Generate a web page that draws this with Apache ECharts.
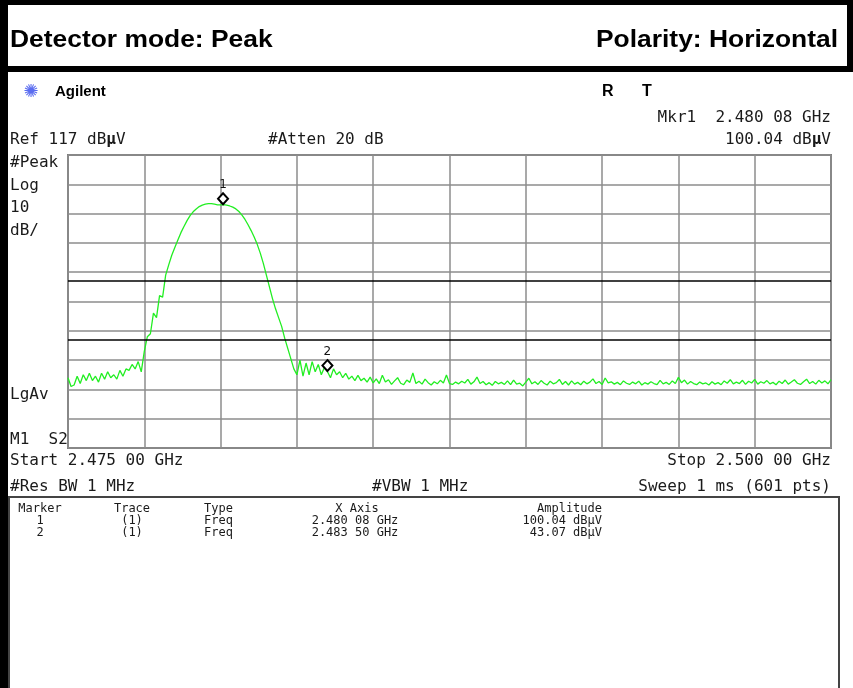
<!DOCTYPE html>
<html>
<head>
<meta charset="utf-8">
<script src="https://cdn.jsdelivr.net/npm/echarts@6/dist/echarts.min.js"></script>
<style>
html, body { margin: 0; padding: 0; background: #fff; }
#chart { width: 853px; height: 688px; }
</style>
</head>
<body>
<div id="chart"></div>
<script>
// sweep settings (GHz / dBuV)
var startFreq = 2.475;
var stopFreq = 2.500;
var refLevel = 117;
var bottomLevel = 17;
var limitLevels = [74, 54];

// trace 1, every 0.1 MHz
var levels = [
  41.0, 38.0, 38.5, 41.5, 39.0, 42.0, 40.0, 42.5, 40.0, 41.5,
  39.5, 42.5, 40.5, 43.0, 41.0, 42.0, 40.5, 43.5, 41.5, 44.0,
  43.5, 45.5, 44.0, 46.5, 43.0, 50.0, 55.0, 56.0, 63.0, 61.5,
  69.0, 68.5, 76.0, 79.5, 82.8, 85.4, 88.0, 90.5, 92.6, 94.6,
  96.3, 97.6, 98.6, 99.4, 99.9, 100.2, 100.4, 100.4, 100.2, 100.0,
  100.0, 100.05, 99.9, 99.6, 99.2, 98.6, 97.7, 96.5, 95.0, 93.2,
  91.2, 89.0, 86.5, 83.5, 80.0, 76.0, 72.0, 68.0, 64.5, 61.5,
  58.5, 54.5, 51.0, 47.5, 44.0, 42.0, 47.0, 41.5, 46.0, 42.0,
  46.5, 43.0, 45.5, 42.0, 44.5, 43.1, 41.0, 44.0, 42.0, 43.0,
  41.0, 42.5, 40.5, 41.5, 40.0, 41.8, 40.0, 40.8, 39.5, 41.2,
  39.2, 40.6, 39.0, 41.8, 39.5, 40.3, 38.7, 39.9, 41.0, 39.1,
  38.6, 40.2, 39.4, 42.6, 39.0, 39.8, 38.8, 40.5, 39.3, 38.5,
  39.6, 38.9, 40.1, 39.2, 41.9, 39.0, 38.7, 39.5, 38.9, 39.8,
  39.2, 40.4, 38.8, 39.6, 41.2, 39.0, 39.7, 38.6, 39.3, 38.4,
  39.7, 38.9, 39.4, 38.7, 39.9, 38.6, 40.2, 38.8, 39.1, 38.2,
  39.5, 40.8, 38.9, 39.6, 38.7, 40.0, 39.1, 38.5, 39.8, 38.9,
  39.3, 40.4, 38.7, 39.7, 38.5, 39.9, 38.8, 39.4, 38.6, 39.8,
  38.9, 39.5, 40.6, 39.0, 39.7, 38.7, 40.9, 39.2, 39.6, 38.8,
  39.4, 38.6, 39.9, 39.1, 38.7, 39.5, 38.9, 39.8, 38.5, 39.3,
  38.8, 39.6, 39.0, 38.6, 40.1, 38.9, 39.4, 38.7, 39.9, 39.0,
  41.1, 39.3, 40.2, 38.8, 39.7, 39.0, 38.6, 39.5, 38.9, 39.2,
  38.5, 39.6, 38.8, 39.3, 38.6, 39.9, 39.1, 40.3, 38.9, 39.5,
  39.0, 40.1, 38.7, 39.8, 39.2, 40.4, 38.8, 39.6, 39.1, 40.0,
  38.9, 39.4, 38.6, 39.8, 39.0, 40.2, 38.8, 39.5, 40.3, 39.1,
  38.7, 39.6, 40.5, 39.0, 39.7, 38.8, 40.1, 39.2, 39.9, 38.9, 40.3
];

// markers
var markerNames = ['1', '2'];
var markerFreqs = [2.48008, 2.48350];
var markerAmps = [100.04, 43.07];
var markerFreqText = ['2.480 08 GHz', '2.483 50 GHz'];
var markerAmpText = ['100.04 dB\u00b5V', '43.07 dB\u00b5V'];

var step = (stopFreq - startFreq) / (levels.length - 1);
var traceData = levels.map(function (v, i) {
    return [startFreq + i * step, v];
});

var mono = '"DejaVu Sans Mono", "Liberation Mono", monospace';
var ink = '#1a1a1a';

function label(x, y, text, size, align, extra) {
    var el = {
        type: 'text', x: x, y: y, silent: true,
        style: {
            text: text, fill: ink, align: align || 'left', verticalAlign: 'middle',
            font: (size || 16) + 'px ' + mono,
            rich: {b: {fontWeight: 'bold', fontSize: size || 16, fontFamily: mono, fill: ink}}
        }
    };
    if (extra) Object.assign(el, extra);
    return el;
}

var graphics = [
    // frame
    {type: 'rect', shape: {x: 0, y: 0, width: 8, height: 688}, style: {fill: '#000'}},
    {type: 'rect', shape: {x: 0, y: 0, width: 853, height: 5}, style: {fill: '#000'}},
    {type: 'rect', shape: {x: 847, y: 0, width: 6, height: 72}, style: {fill: '#000'}},
    {type: 'rect', shape: {x: 0, y: 66, width: 853, height: 6}, style: {fill: '#000'}},
    {type: 'rect', shape: {x: 9, y: 497, width: 830, height: 200},
        style: {fill: 'none', stroke: '#444', lineWidth: 2}},
    // header
    {type: 'text', x: 10, y: 40, scaleX: 1.1,
        style: {text: 'Detector mode: Peak', font: 'bold 24px "Liberation Sans", Arial, sans-serif',
            fill: '#000', align: 'left', verticalAlign: 'middle'}},
    {type: 'text', x: 838, y: 40, scaleX: 1.1,
        style: {text: 'Polarity: Horizontal', font: 'bold 24px "Liberation Sans", Arial, sans-serif',
            fill: '#000', align: 'right', verticalAlign: 'middle'}},
    // analyzer banner
    {type: 'text', x: 31, y: 92,
        style: {text: '\u273a', font: '18px "DejaVu Sans"', fill: '#5a6cf0', align: 'center', verticalAlign: 'middle'}},
    {type: 'text', x: 55, y: 92,
        style: {text: 'Agilent', font: 'bold 15px "Liberation Sans", Arial, sans-serif', fill: '#000', verticalAlign: 'middle'}},
    {type: 'text', x: 602, y: 92,
        style: {text: 'R', font: 'bold 16px "Liberation Sans", Arial, sans-serif', fill: '#000', verticalAlign: 'middle'}},
    {type: 'text', x: 642, y: 92,
        style: {text: 'T', font: 'bold 16px "Liberation Sans", Arial, sans-serif', fill: '#000', verticalAlign: 'middle'}},
    label(831, 118, 'Mkr1  2.480 08 GHz', 16, 'right'),
    label(831, 140, '100.04 dB{b|\u00b5}V', 16, 'right'),
    label(10, 140, 'Ref 117 dB{b|\u00b5}V'),
    label(268, 140, '#Atten 20 dB'),
    label(10, 163, '#Peak'),
    label(10, 186, 'Log'),
    label(10, 208, '10'),
    label(10, 231, 'dB/'),
    label(10, 395, 'LgAv'),
    label(10, 440, 'M1  S2'),
    label(10, 461, 'Start 2.475 00 GHz'),
    label(831, 461, 'Stop 2.500 00 GHz', 16, 'right'),
    label(10, 487, '#Res BW 1 MHz'),
    label(372, 487, '#VBW 1 MHz'),
    label(831, 487, 'Sweep 1 ms (601 pts)', 16, 'right'),
    // marker table
    label(40, 509, 'Marker', 12, 'center'),
    label(132, 509, 'Trace', 12, 'center'),
    label(204, 509, 'Type', 12),
    label(357, 509, 'X Axis', 12, 'center'),
    label(602, 509, 'Amplitude', 12, 'right')
];
markerNames.forEach(function (n, i) {
    var y = 521 + i * 12;
    graphics.push(label(40, y, n, 12, 'center'));
    graphics.push(label(132, y, '(1)', 12, 'center'));
    graphics.push(label(204, y, 'Freq', 12));
    graphics.push(label(355, y, markerFreqText[i], 12, 'center'));
    graphics.push(label(602, y, markerAmpText[i], 12, 'right'));
});

var chart = echarts.init(document.getElementById('chart'));
chart.setOption({
    animation: false,
    grid: {
        left: 68, top: 155, width: 763, height: 293,
        show: true, borderColor: '#7d7d7d', borderWidth: 2
    },
    xAxis: {
        type: 'value', min: startFreq, max: stopFreq, interval: 0.0025,
        axisLabel: {show: false}, axisTick: {show: false}, axisLine: {show: false},
        splitLine: {lineStyle: {color: '#8c8c8c', width: 1.5}}
    },
    yAxis: {
        type: 'value', min: bottomLevel, max: refLevel, interval: 10,
        axisLabel: {show: false}, axisTick: {show: false}, axisLine: {show: false},
        splitLine: {lineStyle: {color: '#8c8c8c', width: 1.5}}
    },
    series: [{
        type: 'line',
        data: traceData,
        showSymbol: false,
        lineStyle: {color: '#22ee22', width: 1.3},
        markLine: {
            silent: true, symbol: 'none', label: {show: false},
            lineStyle: {color: '#000', width: 1.5, type: 'solid'},
            data: limitLevels.map(function (v) { return {yAxis: v}; })
        },
        markPoint: {
            silent: true,
            symbol: 'diamond', symbolSize: [10, 11], symbolOffset: [0, -6],
            itemStyle: {color: '#fff', borderColor: '#000', borderWidth: 2},
            label: {show: true, position: 'top', distance: 1, formatter: '{b}',
                color: '#111', fontSize: 12, fontFamily: 'DejaVu Sans'},
            data: markerNames.map(function (n, i) {
                return {name: n, coord: [markerFreqs[i], markerAmps[i]]};
            })
        }
    }],
    graphic: graphics
});
</script>
</body>
</html>
